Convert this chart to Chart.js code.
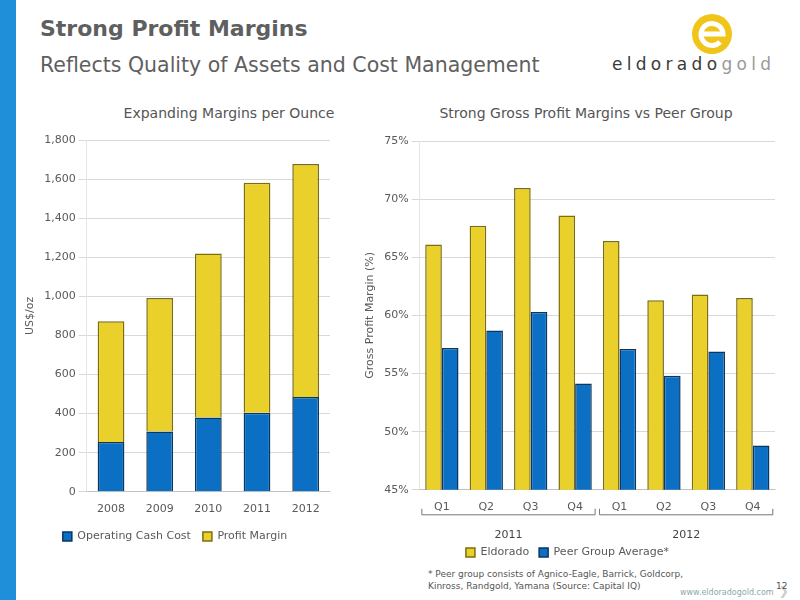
<!DOCTYPE html>
<html><head><meta charset="utf-8">
<script src="https://cdn.jsdelivr.net/npm/chart.js@4/dist/chart.umd.min.js"></script>
<style>
body{margin:0;width:800px;height:600px;background:#fff;font-family:"DejaVu Sans",sans-serif;position:relative;overflow:hidden}
.bar{position:absolute;left:0;top:0;width:16px;height:600px;background:#1e8fd8}
.t1{position:absolute;left:40px;top:16px;font-size:22px;font-weight:bold;color:#5f5f5f}
.t2{position:absolute;left:40px;top:53px;font-size:20.5px;color:#5f5f5f}
canvas{position:absolute}
.logo{position:absolute;left:690px;top:12px}
.lt{position:absolute;left:612px;top:54px;font-size:17px;letter-spacing:4.3px;color:#3a3a3a}
.lt span{color:#9a9a9a}
.ct{position:absolute;top:105px;font-size:14px;color:#555;text-align:center;width:360px}
.note{position:absolute;left:428px;top:568px;font-size:9px;color:#555;line-height:12px}
.url{position:absolute;left:680px;top:584px;font-size:8px;color:#8aa}
.pg{position:absolute;left:776px;top:581px;font-size:9px;color:#555}
</style></head><body>
<div class="bar"></div>
<div class="t1">Strong Profit Margins</div>
<div class="t2">Reflects Quality of Assets and Cost Management</div>
<svg class="logo" width="50" height="44"><circle cx="22" cy="22" r="20" fill="#f0c419"/><path d="M11 22 h22 a11 11 0 1 0 -3 8" stroke="#fff" stroke-width="5" fill="none"/></svg>
<div class="lt">eldorado<span>gold</span></div>
<div class="ct" style="left:49px">Expanding Margins per Ounce</div>
<div class="ct" style="left:406px">Strong Gross Profit Margins vs Peer Group</div>
<canvas id="c1" width="320" height="454" style="left:20px;top:98px"></canvas>
<canvas id="c2" width="425" height="470" style="left:360px;top:98px"></canvas>
<div class="note">* Peer group consists of Agnico-Eagle, Barrick, Goldcorp,<br>Kinross, Randgold, Yamana (Source: Capital IQ)</div>
<div class="url">www.eldoradogold.com &nbsp;<span style="color:#ccc;font-size:12px">❯</span></div>
<div class="pg">12</div>
<script>
const years=['2008','2009','2010','2011','2012'];
const cashCost=[255,308,380,404,485];
const profitMargin=[618,684,839,1177,1192];
const quarters=['Q1','Q2','Q3','Q4','Q1','Q2','Q3','Q4'];
const groupYears=['2011','2012'];
const eldorado=[66.1,67.7,70.95,68.6,66.4,61.3,61.8,61.5];
const peer=[57.2,58.7,60.3,54.15,57.1,54.8,56.9,48.8];

const GOLD='#ead02a',GOLDB='#7d6c10',BLUE='#0b6fc4',BLUEB='#0a3660';
const tickFont={family:'DejaVu Sans',size:11};
const grid={color:'#d9d9d9'};
Chart.defaults.color='#595959';
Chart.defaults.animation=false;

new Chart(document.getElementById('c1'),{type:'bar',
data:{labels:years,datasets:[
{label:'Operating Cash Cost',data:cashCost,backgroundColor:BLUE,borderColor:BLUEB,borderWidth:1.5},
{label:'Profit Margin',data:profitMargin,backgroundColor:GOLD,borderColor:GOLDB,borderWidth:1.5}]},
options:{responsive:false,devicePixelRatio:1,
layout:{padding:{right:10,top:42}},
plugins:{legend:{position:'bottom',labels:{boxWidth:9,boxHeight:9,font:tickFont,padding:12}}},
datasets:{bar:{categoryPercentage:0.55,barPercentage:1}},
scales:{x:{stacked:true,grid:{display:false},ticks:{font:tickFont}},
y:{stacked:true,min:0,max:1800,ticks:{stepSize:200,font:tickFont,callback:v=>v.toLocaleString('en-US')},grid:grid,
title:{display:true,text:'US$/oz',font:tickFont}}}}});

const groupPlugin={id:'grp',afterDraw(ch){
const x=ch.scales.x,ctx=ch.ctx,y0=x.top+25;
ctx.save();ctx.strokeStyle='#777';ctx.lineWidth=1;ctx.fillStyle='#444';ctx.font='11px DejaVu Sans';ctx.textAlign='center';
for(let g=0;g<2;g++){const a=x.getPixelForValue(g*4)-20,b=x.getPixelForValue(g*4+3)+20;
ctx.beginPath();ctx.moveTo(a,y0-6);ctx.lineTo(a,y0);ctx.lineTo(b,y0);ctx.lineTo(b,y0-6);ctx.stroke();
ctx.fillText(groupYears[g],(a+b)/2,y0+20);}
ctx.restore();}};

new Chart(document.getElementById('c2'),{type:'bar',
data:{labels:quarters,datasets:[
{label:'Eldorado',data:eldorado,backgroundColor:GOLD,borderColor:GOLDB,borderWidth:1.5},
{label:'Peer Group Average*',data:peer,backgroundColor:BLUE,borderColor:BLUEB,borderWidth:1.5}]},
options:{responsive:false,devicePixelRatio:1,
layout:{padding:{right:10,top:43}},
plugins:{legend:{position:'bottom',labels:{boxWidth:9,boxHeight:9,font:tickFont,padding:10}}},
datasets:{bar:{categoryPercentage:0.75,barPercentage:1}},
scales:{x:{grid:{display:false},ticks:{font:tickFont},afterFit(s){s.height+=20}},
y:{min:45,max:75,ticks:{stepSize:5,font:tickFont,callback:v=>v+'%'},grid:grid,
title:{display:true,text:'Gross Profit Margin (%)',font:tickFont}}}},
plugins:[groupPlugin]});
</script></body></html>
